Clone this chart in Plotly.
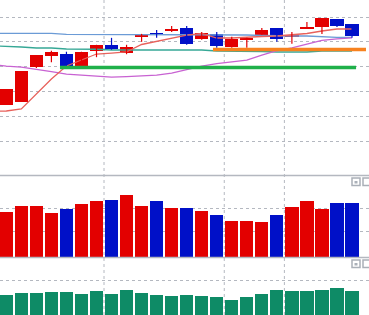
import plotly.graph_objects as go

# ---- data ----
idx = list(range(24))
opens  = [10.23, 10.29, 10.99, 11.21, 11.25, 11.01, 11.32, 11.44, 11.27, 11.60, 11.68, 11.72,
          11.78, 11.56, 11.66, 11.40, 11.54, 11.64, 11.78, 11.60, 11.76, 11.80, 11.96, 11.86]
closes = [10.55, 10.91, 11.23, 11.30, 11.01, 11.30, 11.44, 11.36, 11.40, 11.66, 11.64, 11.76,
          11.46, 11.68, 11.42, 11.56, 11.58, 11.74, 11.56, 11.64, 11.80, 11.98, 11.82, 11.62]
highs  = [10.55, 10.91, 11.23, 11.32, 11.30, 11.30, 11.44, 11.58, 11.44, 11.66, 11.74, 11.82,
          11.82, 11.70, 11.70, 11.60, 11.58, 11.78, 11.78, 11.70, 11.90, 11.98, 11.96, 11.86]
lows   = [10.23, 10.29, 10.97, 11.09, 11.01, 11.01, 11.19, 11.34, 11.25, 11.50, 11.58, 11.70,
          11.44, 11.54, 11.38, 11.38, 11.38, 11.64, 11.50, 11.46, 11.76, 11.66, 11.80, 11.58]

ma_x = list(range(-1, 24))
ma_fast = [10.10, 10.105, 10.146, 10.448, 10.750, 11.012, 11.133, 11.254, 11.274, 11.295, 11.446,
           11.506, 11.567, 11.637, 11.668, 11.577, 11.577, 11.597, 11.607, 11.617, 11.637,
           11.668, 11.718, 11.758, 11.758]
ma_mid = [11.05, 11.01, 10.99, 10.95, 10.90, 10.85, 10.83, 10.82, 10.79, 10.80, 10.81, 10.83,
          10.87, 10.94, 11.01, 11.06, 11.10, 11.13, 11.23, 11.32, 11.38, 11.46, 11.53, 11.56, 11.58]
ma_teal = [11.42, 11.415, 11.395, 11.375, 11.375, 11.355, 11.355, 11.35, 11.335, 11.335, 11.335,
           11.335, 11.335, 11.335, 11.335, 11.315, 11.315, 11.315, 11.305, 11.295, 11.295, 11.295,
           11.315, 11.315, 11.315]
ma_slow = [11.672, 11.672, 11.672, 11.672, 11.672, 11.651, 11.651, 11.651, 11.651, 11.651, 11.651,
           11.651, 11.647, 11.645, 11.641, 11.637, 11.637, 11.637, 11.627, 11.617, 11.617, 11.617,
           11.597, 11.591, 11.591]

support_level = 10.98
support_span = [3.57, 23.27]
resist_level = 11.345
resist_span = [13.75, 23.93]

volume = [4.5, 5.1, 5.1, 4.4, 4.8, 5.3, 5.6, 5.7, 6.2, 5.1, 5.6, 4.9,
          4.9, 4.6, 4.2, 3.6, 3.6, 3.5, 4.2, 5.0, 5.6, 4.8, 5.4, 5.4]
indicator = [2.0, 2.2, 2.2, 2.3, 2.3, 2.1, 2.4, 2.1, 2.5, 2.2, 2.0, 1.9,
             2.0, 1.9, 1.8, 1.5, 1.8, 2.1, 2.5, 2.4, 2.4, 2.5, 2.7, 2.4]

price_grid = [9.5, 10.0, 10.5, 11.0, 11.5, 12.0]
vol_grid = [2.57, 4.87]
ind_grid = [3.47]
vgrid_pos = [6.5, 14.5, 18.5]

RED = "#e30000"
BLUE = "#0010c8"
colors = [RED if c >= o else BLUE for o, c in zip(opens, closes)]

fig = go.Figure()

# moving averages (drawn under candles)
for ys, col in [(ma_slow, "#6b9bd6"), (ma_teal, "#36a896"), (ma_mid, "#c862d2"), (ma_fast, "#e8625c")]:
    fig.add_trace(go.Scatter(x=ma_x, y=ys, mode="lines", line=dict(color=col, width=1.3),
                             showlegend=False, xaxis="x", yaxis="y"))

# bodies
fig.add_trace(go.Bar(x=idx, y=[max(abs(c - o), 0.012) for o, c in zip(opens, closes)],
                     base=[min(o, c) for o, c in zip(opens, closes)], width=0.88,
                     marker=dict(color=colors, line=dict(width=0)), showlegend=False,
                     xaxis="x", yaxis="y"))
# wicks
for i in idx:
    fig.add_trace(go.Scatter(x=[i, i], y=[lows[i], highs[i]], mode="lines",
                             line=dict(color=colors[i], width=1.2), showlegend=False,
                             hoverinfo="skip", xaxis="x", yaxis="y"))

# support / resistance
fig.add_trace(go.Scatter(x=support_span, y=[support_level] * 2, mode="lines",
                         line=dict(color="#1fb04a", width=3.5), showlegend=False, xaxis="x", yaxis="y"))
fig.add_trace(go.Scatter(x=resist_span, y=[resist_level] * 2, mode="lines",
                         line=dict(color="#f7821f", width=3.5), showlegend=False, xaxis="x", yaxis="y"))

# volume
fig.add_trace(go.Bar(x=idx, y=volume, width=0.88, marker=dict(color=colors, line=dict(width=0)),
                     showlegend=False, xaxis="x", yaxis="y2"))
# indicator
fig.add_trace(go.Bar(x=idx, y=indicator, width=0.88, marker=dict(color="#0e8b66", line=dict(width=0)),
                     showlegend=False, xaxis="x", yaxis="y3"))

H = 315.0
gridc = "#b4b8c0"
ax_common = dict(showticklabels=False, zeroline=False, showline=False, ticks="")
xr = [-0.42, 24.13]

shapes = []
for xv in vgrid_pos:
    shapes.append(dict(type="line", xref="x", yref="paper", x0=xv, x1=xv, y0=0, y1=1,
                       line=dict(color=gridc, width=1, dash="dot"), layer="below"))
for py in [175.5, 257.5]:
    shapes.append(dict(type="line", xref="paper", yref="paper", x0=0, x1=1,
                       y0=1 - py / H, y1=1 - py / H, line=dict(color=gridc, width=1.5)))
# small panel icons
for top in [178, 260]:
    for x0, x1 in [(352 / 369, 360 / 369), (363 / 369, 371 / 369)]:
        shapes.append(dict(type="rect", xref="paper", yref="paper", x0=x0, x1=x1,
                           y0=1 - (top + 7.5) / H, y1=1 - top / H,
                           line=dict(color="#aab0b8", width=1.5), fillcolor="white"))
    shapes.append(dict(type="rect", xref="paper", yref="paper", x0=354.5 / 369, x1=357.5 / 369,
                       y0=1 - (top + 5.5) / H, y1=1 - (top + 3) / H,
                       line=dict(width=0), fillcolor="#aab0b8"))

fig.update_layout(
    width=369, height=315, margin=dict(l=0, r=0, t=0, b=0),
    paper_bgcolor="white", plot_bgcolor="white", bargap=0, showlegend=False,
    xaxis=dict(range=xr, showgrid=False, **ax_common),
    yaxis=dict(domain=[1 - 175 / H, 1], range=[8.815, 12.343], tickvals=price_grid,
               showgrid=True, gridcolor=gridc, griddash="dot", gridwidth=1, **ax_common),
    yaxis2=dict(domain=[1 - 257 / H, 1 - 176 / H], range=[0, 8.1], tickvals=vol_grid,
                showgrid=True, gridcolor=gridc, griddash="dot", gridwidth=1, **ax_common),
    yaxis3=dict(domain=[0, 1 - 258 / H], range=[0, 5.7], tickvals=ind_grid,
                showgrid=True, gridcolor=gridc, griddash="dot", gridwidth=1, **ax_common),
    shapes=shapes,
)

fig.write_html("out.html")
